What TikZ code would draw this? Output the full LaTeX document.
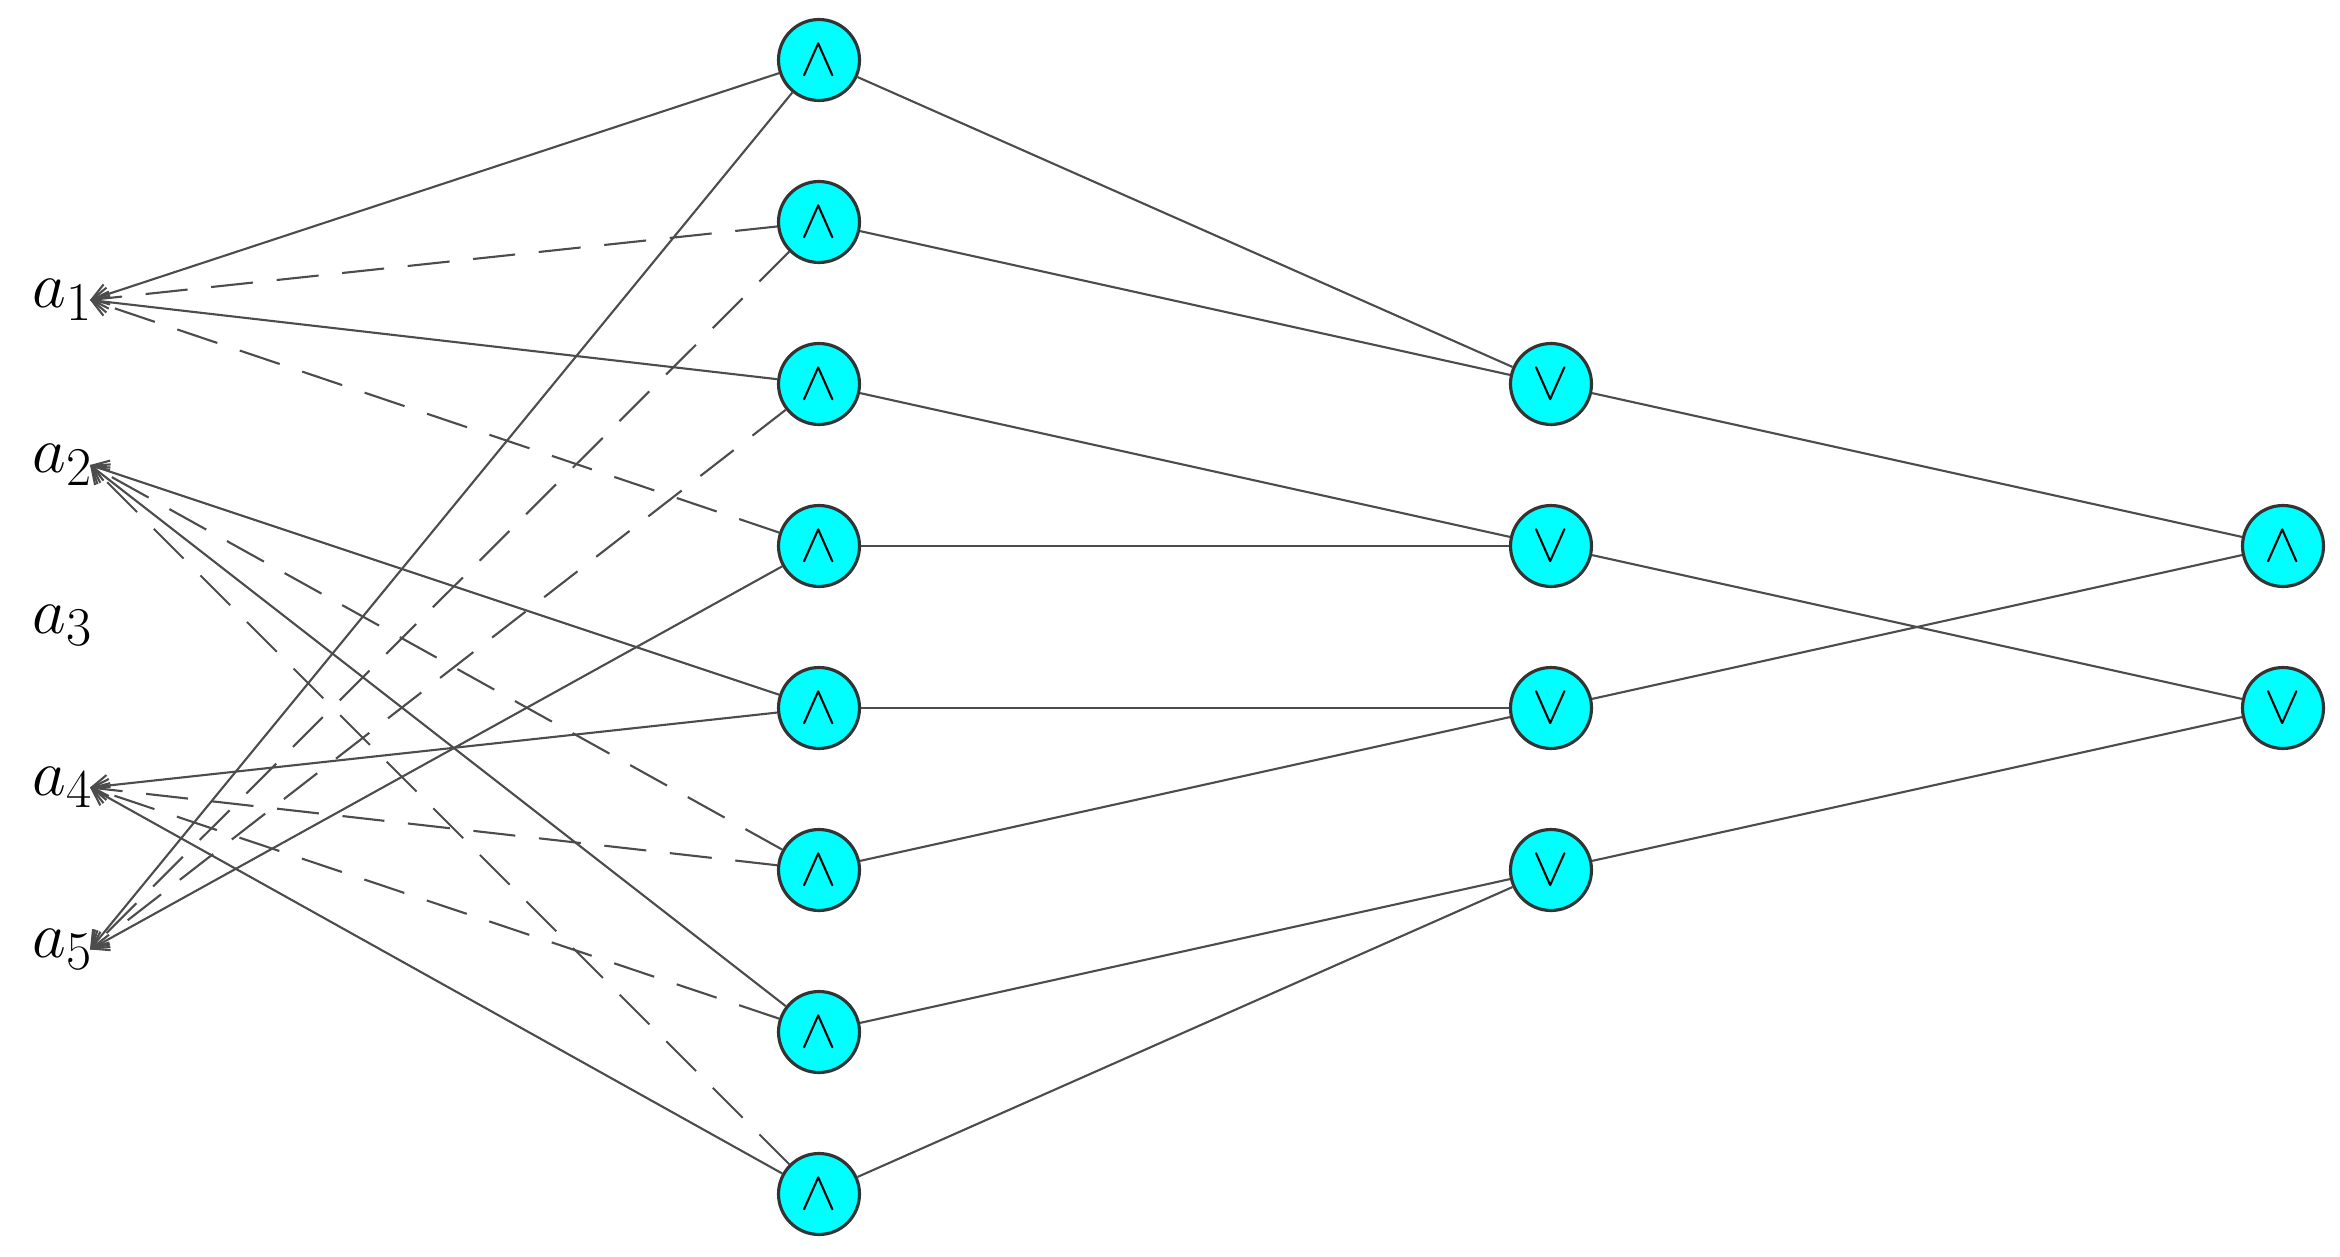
\documentclass[tikz,border=0pt]{standalone}
\usetikzlibrary{arrows.meta}
\definecolor{cy}{RGB}{0,255,255}
\begin{document}
\begin{tikzpicture}[x=0.02cm,y=-0.02cm,
 g/.style={circle,draw=black!80,line width=1.2pt,fill=cy,minimum size=1.08cm,inner sep=0pt,font=\fontsize{20}{20}\selectfont},
 lab/.style={anchor=east,inner sep=0pt,font=\fontsize{32}{33}\selectfont},
 e/.style={draw=black!70,line width=0.8pt,-{Straight Barb[length=6pt,width=8pt]}},
 d/.style={e,dash pattern=on 16pt off 9pt},
 f/.style={draw=black!70,line width=0.8pt}]
\useasboundingbox (0,0) rectangle (1560,838);
\foreach \i/\y in {1/200,2/310,3/417,4/525,5/633}{
 \coordinate (a\i) at (60,\y);
 \node[lab] (t\i) at (62,\y) {$a_{\i}$};}
\foreach \i/\y in {1/40,2/148,3/256,4/364,5/472,6/580,7/688,8/796}
 \node[g] (p\i) at (546,\y) {$\wedge$};
\node[g] (q1) at (1034,256) {$\vee$};
\node[g] (q2) at (1034,364) {$\vee$};
\node[g] (q3) at (1034,472) {$\vee$};
\node[g] (q4) at (1034,580) {$\vee$};
\node[g] (r1) at (1522,364) {$\wedge$};
\node[g] (r2) at (1522,472) {$\vee$};
\draw[e] (p1) -- (a1); \draw[d] (p2) -- (a1); \draw[e] (p3) -- (a1); \draw[d] (p4) -- (a1);
\draw[e] (p5) -- (a2); \draw[d] (p6) -- (a2); \draw[e] (p7) -- (a2); \draw[d] (p8) -- (a2);
\draw[e] (p5) -- (a4); \draw[d] (p6) -- (a4); \draw[d] (p7) -- (a4); \draw[e] (p8) -- (a4);
\draw[e] (p1) -- (a5); \draw[d] (p2) -- (a5); \draw[d] (p3) -- (a5); \draw[e] (p4) -- (a5);
\draw[f] (p1) -- (q1); \draw[f] (p2) -- (q1); \draw[f] (p3) -- (q2); \draw[f] (p4) -- (q2);
\draw[f] (p5) -- (q3); \draw[f] (p6) -- (q3); \draw[f] (p7) -- (q4); \draw[f] (p8) -- (q4);
\draw[f] (q1) -- (r1); \draw[f] (q2) -- (r2); \draw[f] (q3) -- (r1); \draw[f] (q4) -- (r2);
\end{tikzpicture}
\end{document}
